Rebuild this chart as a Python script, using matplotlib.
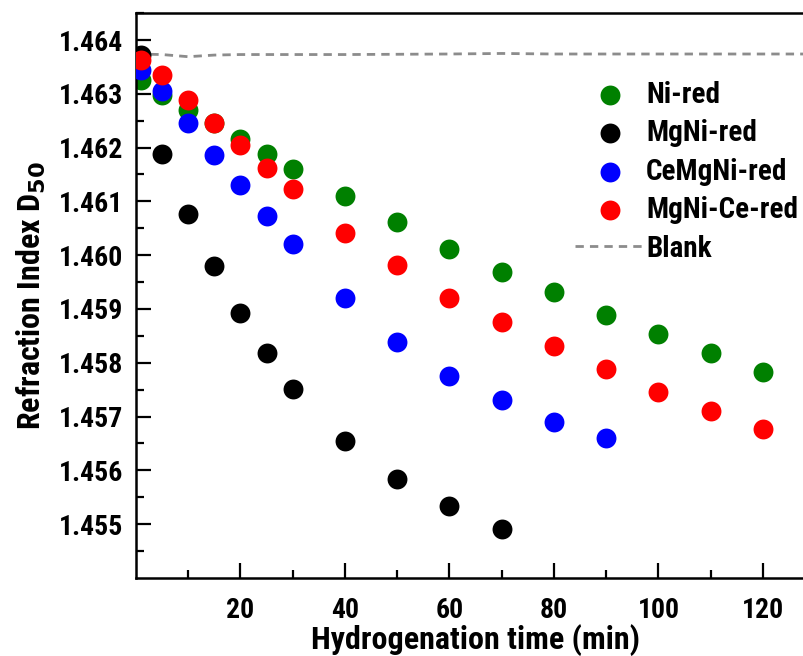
import numpy as np
import matplotlib
matplotlib.use('Agg')
from matplotlib import pyplot as plt
from matplotlib import font_manager

# pick a condensed bold font if it exists
names = set(f.name for f in font_manager.fontManager.ttflist)
font = 'Liberation Sans'
for cand in ['Liberation Sans Narrow', 'Roboto Condensed', 'Open Sans Condensed']:
    if cand in names:
        font = cand
        break
plt.rcParams['font.family'] = [font, 'DejaVu Sans']
plt.rcParams['font.weight'] = 'bold'

# data
t_ni = [1, 5, 10, 15, 20, 25, 30, 40, 50, 60, 70, 80, 90, 100, 110, 120]
ni_red = [1.46326, 1.46298, 1.46270, 1.46245, 1.46216, 1.46188, 1.46160, 1.46110,
          1.46061, 1.46011, 1.45968, 1.45931, 1.45888, 1.45854, 1.45819, 1.45782]

t_mgni = [1, 5, 10, 15, 20, 25, 30, 40, 50, 60, 70]
mgni_red = [1.46372, 1.46188, 1.46076, 1.45979, 1.45892, 1.45819, 1.45752,
            1.45655, 1.45584, 1.45534, 1.45491]

t_cemgni = [1, 5, 10, 15, 20, 25, 30, 40, 50, 60, 70, 80, 90]
cemgni_red = [1.46344, 1.46305, 1.46245, 1.46186, 1.46130, 1.46072, 1.46020,
              1.45920, 1.45838, 1.45776, 1.45730, 1.45690, 1.45661]

t_mgnice = [1, 5, 10, 15, 20, 25, 30, 40, 50, 60, 70, 80, 90, 100, 110, 120]
mgnice_red = [1.46362, 1.46335, 1.46288, 1.46245, 1.46204, 1.46163, 1.46123, 1.46041,
              1.45981, 1.45920, 1.45875, 1.45832, 1.45789, 1.45745, 1.45711, 1.45677]

t_blank = [0, 5, 10, 15, 20, 40, 60, 70, 80, 100, 120, 130]
blank = [1.46374, 1.46373, 1.46369, 1.46372, 1.46373, 1.46373, 1.46374, 1.46375,
         1.46374, 1.46374, 1.46374, 1.46374]

fig = plt.figure(figsize=(8.04, 6.56), dpi=100)
ax = fig.add_axes([0.169, 0.119, 0.845, 0.861])

ms = 205
ax.plot(t_blank, blank, '--', color='#8c8c8c', lw=2, dashes=(3, 2.2), label='Blank', zorder=1)
ax.scatter(t_ni, ni_red, s=ms, color='#008000', label='Ni-red', zorder=2, linewidths=0)
ax.scatter(t_mgni, mgni_red, s=ms, color='black', label='MgNi-red', zorder=3, linewidths=0)
ax.scatter(t_cemgni, cemgni_red, s=ms, color='#0000ff', label='CeMgNi-red', zorder=4, linewidths=0)
ax.scatter(t_mgnice, mgnice_red, s=ms, color='#ff0000', label='MgNi-Ce-red', zorder=5, linewidths=0)

ax.set_xlim(0, 130)
ax.set_ylim(1.454, 1.4645)
ax.set_xticks([20, 40, 60, 80, 100, 120])
ax.set_xticks(np.arange(10, 130, 20), minor=True)
ax.set_yticks(np.arange(1.455, 1.4641, 0.001))
ax.set_yticks(np.arange(1.4545, 1.4645, 0.001), minor=True)
ax.yaxis.set_major_formatter(matplotlib.ticker.FormatStrFormatter('%.3f'))
ax.tick_params(which='major', direction='in', length=11, width=1.6, labelsize=20)
ax.tick_params(which='minor', direction='in', length=6, width=1.6)
ax.tick_params(axis='x', pad=14)
ax.tick_params(axis='y', pad=9)
for s in ax.spines.values():
    s.set_linewidth(1.8)

ax.set_xlabel('Hydrogenation time (min)', fontsize=23, fontweight='bold', labelpad=0)
ax.set_ylabel('Refraction Index D$_{\\mathbf{50}}$', fontsize=23, fontweight='bold', labelpad=8)

h, l = ax.get_legend_handles_labels()
order = [1, 2, 3, 4, 0]
ax.legend([h[i] for i in order], [l[i] for i in order], loc='upper left',
          bbox_to_anchor=(0.607, 0.927), frameon=False, fontsize=21,
          handlelength=2.4, handletextpad=0.05, labelspacing=0.36, scatterpoints=1)

fig.savefig('out.png', dpi=100)
